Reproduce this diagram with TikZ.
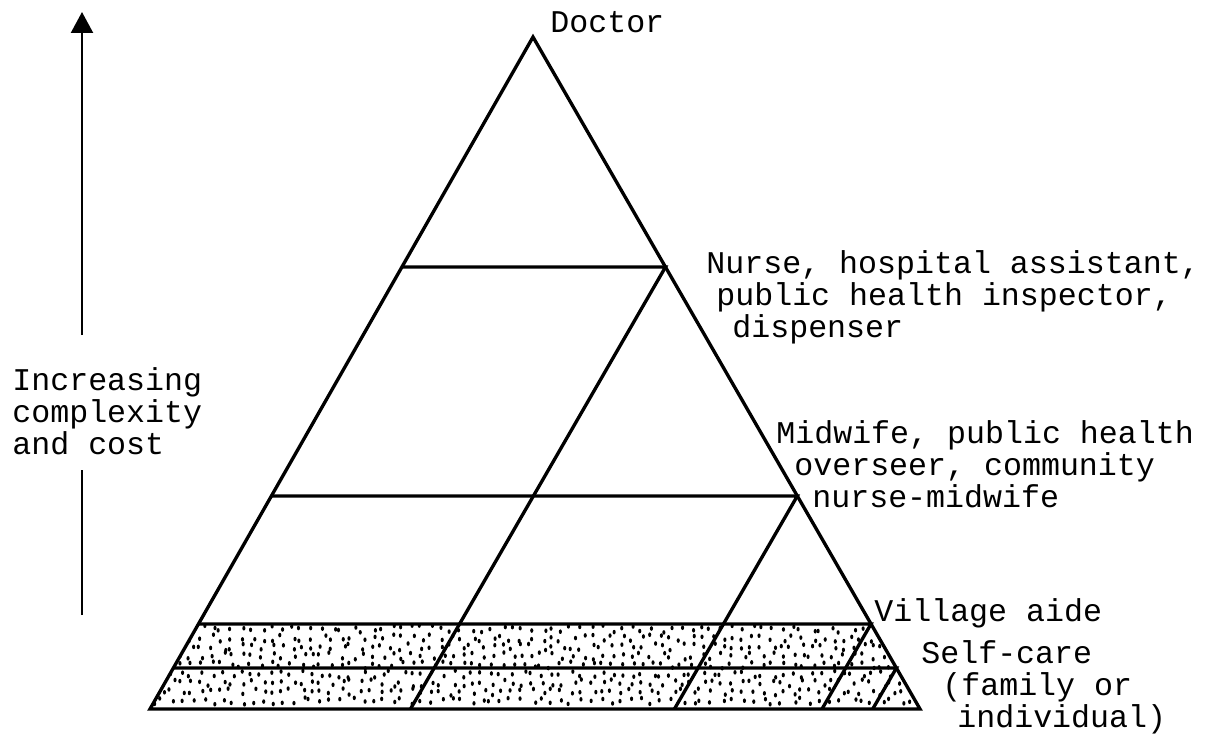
\documentclass[tikz,border=0pt]{standalone}
\usepackage{fontspec}
\usetikzlibrary{arrows.meta}
\newfontfamily\twfont{Liberation Mono}
\begin{document}
\begin{tikzpicture}[x=0.02cm,y=-0.02cm,
  edge/.style={line width=1.9pt,line join=miter,line cap=butt},
  lbl/.style={font=\twfont\fontsize{18}{18.2}\selectfont,anchor=base west,inner sep=0pt,align=left},
  axis/.style={line width=1.3pt},
  dot/.style={fill=black}]
\useasboundingbox[fill=white] (0,0) rectangle (1211,734);
% triangle corners
\coordinate (A) at (533,37);
\coordinate (BL) at (150,709);
\coordinate (BR) at (920,709);
% level points on left / right edges
\coordinate (L1) at (401.9,267); \coordinate (R1) at (665.5,267); \coordinate (S1) at (410.5,709);
\coordinate (L2) at (271.4,496); \coordinate (R2) at (797.3,496); \coordinate (S2) at (674.4,709);
\coordinate (L3) at (198.4,624); \coordinate (R3) at (871.0,624); \coordinate (S3) at (822.0,709);
\coordinate (L4) at (173.4,668); \coordinate (R4) at (896.4,668); \coordinate (S4) at (872.7,709);
% stippled base band (jittered grid of dots)
\begin{scope}
\clip (L3) -- (R3) -- (BR) -- (BL) -- cycle;
\pgfmathsetseed{11}
\foreach \gx in {152,162,...,922}{
  \foreach \gy in {629,638,...,707}{
    \pgfmathsetmacro\dx{\gx+8*rnd-4}
    \pgfmathsetmacro\dy{\gy+7*rnd-3.5}
    \fill[dot] (\dx,\dy) ellipse [x radius=0.9pt, y radius=1.3pt];
  }
}
\end{scope}
% outline
\draw[edge] (A) -- (BR) -- (BL) -- cycle;
\draw[edge] (L1) -- (R1) -- (S1);
\draw[edge] (L2) -- (R2) -- (S2);
\draw[edge] (L3) -- (R3) -- (S3);
\draw[edge] (L4) -- (R4) -- (S4);
% labels (anchor = baseline of the last line)
\node[lbl] (doc) at (550,32) {Doctor};
\node[lbl] (nurse) at (706,337) {Nurse, hospital assistant,\\\hspace*{0.2cm}public health inspector,\\\hspace*{0.52cm}dispenser};
\node[lbl] (mid) at (776,507) {Midwife, public health\\\hspace*{0.36cm}overseer, community\\\hspace*{0.72cm}nurse-midwife};
\node[lbl] (vil) at (874,621) {Village aide};
\node[lbl] (self) at (921,727) {Self-care\\\hspace*{0.42cm}(family or\\\hspace*{0.72cm}individual)};
\node[lbl] (inc) at (12,454) {Increasing\\complexity\\and cost};
% vertical arrow
\coordinate (ab) at (82,615);
\coordinate (am) at (82,470);
\coordinate (an) at (82,335);
\coordinate (at) at (82,12);
\draw[axis] (ab) -- (am);
\draw[axis,-{Triangle[length=0.42cm,width=0.44cm]}] (an) -- (at);
\end{tikzpicture}
\end{document}
